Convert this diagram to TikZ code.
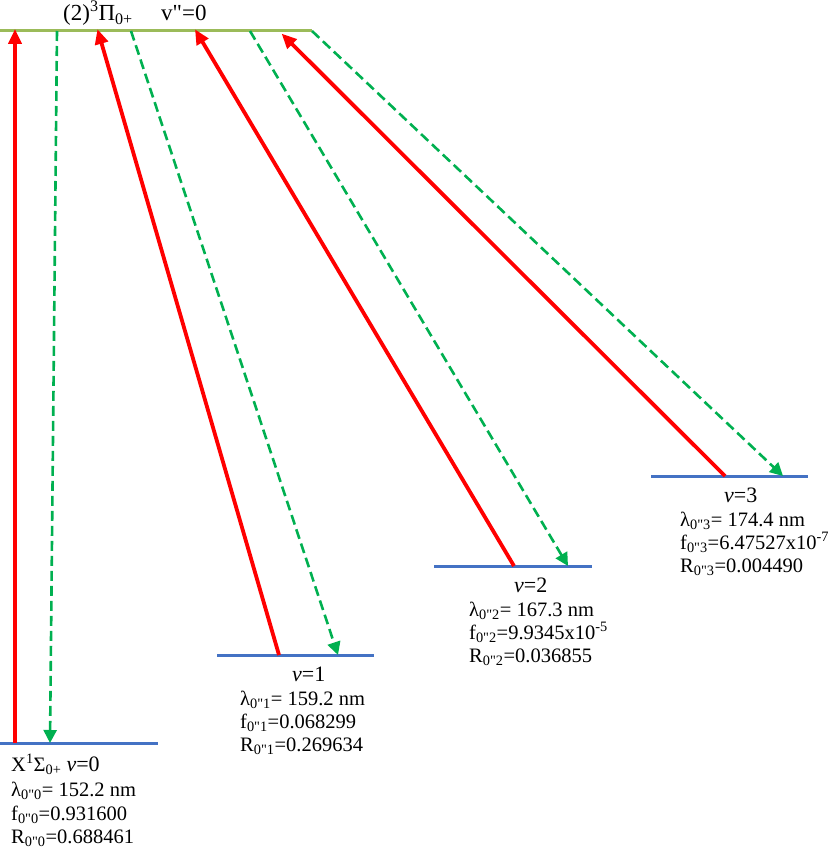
\documentclass[tikz,border=0pt]{standalone}
\usepackage{fontspec}
\setmainfont{Liberation Serif}[Ligatures=TeXOff]
\usetikzlibrary{arrows.meta}
\definecolor{lvlblue}{HTML}{4472C4}
\definecolor{topgreen}{HTML}{9BBB59}
\definecolor{dgreen}{HTML}{00B050}
\tikzset{
  level/.style={draw=lvlblue, line width=3pt},
  toplevel/.style={draw=topgreen, line width=3pt},
  absorb/.style={draw=red, line width=3.8pt, -{Triangle[length=15pt,width=13pt]}, shorten >=-2pt},
  emit/.style={draw=dgreen, line width=2.6pt, dash pattern=on 10pt off 5pt, -{Triangle[length=13pt,width=13pt]}},
  lbl/.style={inner sep=0pt, anchor=base west, font=\fontsize{20.5}{24}\selectfont},
  vlbl/.style={inner sep=0pt, anchor=base west, font=\fontsize{22}{26}\selectfont},
  toplbl/.style={inner sep=0pt, anchor=base west, font=\fontsize{23}{27}\selectfont},
}
\newcommand{\mysub}[1]{\textsubscript{#1}}
\begin{document}
\begin{tikzpicture}[x=1pt,y=-1pt]
\useasboundingbox (0,0) rectangle (830,848);
% levels
\coordinate (T0) at (0,31); \coordinate (T1) at (312,31);
\draw[toplevel] (T0) -- (T1);
\coordinate (A0) at (0,743); \coordinate (A1) at (158,743);
\coordinate (B0) at (217,655); \coordinate (B1) at (374,655);
\coordinate (C0) at (434,566); \coordinate (C1) at (592,566);
\coordinate (D0) at (651,476); \coordinate (D1) at (808,476);
\draw[level] (A0) -- (A1);
\draw[level] (B0) -- (B1);
\draw[level] (C0) -- (C1);
\draw[level] (D0) -- (D1);
% arrow end points
\coordinate (ra0) at (15,743); \coordinate (ra1) at (15,31);
\coordinate (rb0) at (279,655); \coordinate (rb1) at (98,31);
\coordinate (rc0) at (514,566); \coordinate (rc1) at (196,31);
\coordinate (rd0) at (725,476); \coordinate (rd1) at (283,35);
\coordinate (ga0) at (57,31); \coordinate (ga1) at (50,743);
\coordinate (gb0) at (131,31); \coordinate (gb1) at (338,655);
\coordinate (gc0) at (250,31); \coordinate (gc1) at (568,566);
\coordinate (gd0) at (312,31); \coordinate (gd1) at (783,476);
\draw[absorb] (ra0) -- (ra1);
\draw[absorb] (rb0) -- (rb1);
\draw[absorb] (rc0) -- (rc1);
\draw[absorb] (rd0) -- (rd1);
\draw[emit] (ga0) -- (ga1);
\draw[emit] (gb0) -- (gb1);
\draw[emit] (gc0) -- (gc1);
\draw[emit] (gd0) -- (gd1);
% top labels
\node[toplbl] (tl) at (63,21) {(2)\textsuperscript{3}Π\mysub{0+}};
\node[toplbl] (tv) at (161,21) {v"=0};
% v=0 block
\node[lbl] (a1) at (11,771) {X\textsuperscript{1}Σ\mysub{0+} {\fontsize{22}{26}\selectfont\textit{v}=0}};
\node[lbl] (a2) at (11,796) {λ\mysub{0"0}= 152.2 nm};
\node[lbl] (a3) at (11,820) {f\mysub{0"0}=0.931600};
\node[lbl] (a4) at (11,843) {R\mysub{0"0}=0.688461};
% v=1 block
\node[vlbl] (b0) at (292,681) {\textit{v}=1};
\node[lbl] (b1) at (240,705) {λ\mysub{0"1}= 159.2 nm};
\node[lbl] (b2) at (240,728) {f\mysub{0"1}=0.068299};
\node[lbl] (b3) at (240,751) {R\mysub{0"1}=0.269634};
% v=2 block
\node[vlbl] (c0) at (514,592) {\textit{v}=2};
\node[lbl] (c1) at (469,616) {λ\mysub{0"2}= 167.3 nm};
\node[lbl] (c2) at (469,639) {f\mysub{0"2}=9.9345x10\textsuperscript{-5}};
\node[lbl] (c3) at (469,662) {R\mysub{0"2}=0.036855};
% v=3 block
\node[vlbl] (d0) at (724,502) {\textit{v}=3};
\node[lbl] (d1) at (680,526) {λ\mysub{0"3}= 174.4 nm};
\node[lbl] (d2) at (680,549) {f\mysub{0"3}=6.47527x10\textsuperscript{-7}};
\node[lbl] (d3) at (680,572) {R\mysub{0"3}=0.004490};
\end{tikzpicture}
\end{document}
